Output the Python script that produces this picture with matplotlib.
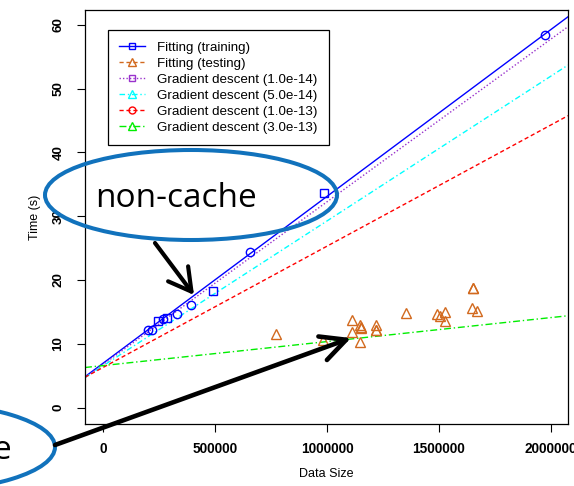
import matplotlib
matplotlib.use("Agg")
import matplotlib.pyplot as plt
from matplotlib.lines import Line2D
from matplotlib.patches import Ellipse
import numpy as np

# ---------------- data ----------------
train_x = [202000, 217000, 247000, 269000, 284000, 329000, 393000, 492000, 656000, 988000, 1973000]
train_y = [12.25, 12.25, 13.55, 13.9, 14.1, 14.7, 16.05, 18.25, 24.4, 33.6, 58.45]
train_marker = ["o", "o", "s", "o", "s", "o", "o", "s", "o", "s", "o"]

test_x = [772000, 983000, 1114000, 1113000, 1147000, 1152000, 1152000, 1147000, 1219000, 1221000, 1221000,
          1351000, 1490000, 1504000, 1527000, 1527000, 1650000, 1650000, 1646000, 1671000]
test_y = [11.47, 10.6, 13.8, 11.9, 13.0, 12.5, 12.6, 10.3, 12.9, 12.15, 12.25,
          14.9, 14.7, 14.35, 14.95, 13.65, 18.7, 18.8, 15.65, 15.1]

# fitted lines: intercept, slope
line_names = ["Gradient descent (1.0e-14)", "Gradient descent (5.0e-14)",
              "Gradient descent (1.0e-13)", "Gradient descent (3.0e-13)"]
line_intercepts = [6.75, 6.55, 6.3, 6.6]
line_slopes = [2.55e-5, 2.27e-5, 1.9e-5, 3.76e-6]
fit_intercept = 6.95
fit_slope = 2.615e-5

x_ticks = [0, 500000, 1000000, 1500000, 2000000]
y_ticks = [0, 10, 20, 30, 40, 50, 60]

# ---------------- style ----------------
C_BLUE = "#0000FF"
C_ORANGE = "#D2691E"
C_PURPLE = "#9932CC"
C_CYAN = "#00FFFF"
C_RED = "#FF0000"
C_GREEN = "#00EE00"
line_colors = [C_PURPLE, C_CYAN, C_RED, C_GREEN]
line_styles = [(0, (1, 1.5)), (0, (4, 2, 1, 2)), (0, (3, 2)), (0, (5, 2, 1, 2))]
legend_markers = ["s", "^", "o", "^"]

plt.rcParams["font.family"] = ["Liberation Sans", "DejaVu Sans"]

W, H = 574, 486
fig = plt.figure(figsize=(W / 100, H / 100), dpi=100)
L, R, T, B = 85, 568, 10, 424
ax = fig.add_axes([L / W, 1 - B / H, (R - L) / W, (B - T) / H])

ax.set_xlim(-80000, 2076000)
ax.set_ylim(-2.55, 62.3)

lw = 1.0
ax.axline((0, fit_intercept), slope=fit_slope, color=C_BLUE, lw=lw, ls="-")
for a, b, c, s in zip(line_intercepts, line_slopes, line_colors, line_styles):
    ax.axline((0, a), slope=b, color=c, lw=lw, ls=s)

for x, y, m in zip(train_x, train_y, train_marker):
    ax.plot([x], [y], ls="none", marker=m, ms=6 if m == "o" else 5.5, mfc="none",
            mec=C_BLUE, mew=1.0)
ax.plot(test_x, test_y, ls="none", marker="^", ms=7, mfc="none", mec=C_ORANGE, mew=1.0)

ax.set_xticks(x_ticks)
ax.set_xticklabels([str(v) for v in x_ticks], fontweight="bold", fontsize=9.8)
ax.set_yticks(y_ticks)
ax.set_yticklabels([str(v) for v in y_ticks], fontweight="bold", fontsize=9.6,
                   rotation=90, va="center")
ax.tick_params(axis="x", length=5.8, width=0.8, pad=7)
ax.tick_params(axis="y", length=5.8, width=0.8, pad=9)
for sp in ax.spines.values():
    sp.set_linewidth(0.9)
ax.set_xlabel("Data Size", fontsize=9, labelpad=9)
ax.set_ylabel("Time (s)", fontsize=9, labelpad=8)

handles = [Line2D([], [], color=C_BLUE, ls="-", lw=lw, marker="s", ms=5, mfc="none", mec=C_BLUE),
           Line2D([], [], color=C_ORANGE, ls=(0, (3, 2)), lw=lw, marker="^", ms=6, mfc="none", mec=C_ORANGE)]
labels = ["Fitting (training)", "Fitting (testing)"]
for c, s, m, n in zip(line_colors, line_styles, legend_markers, line_names):
    handles.append(Line2D([], [], color=c, ls=s, lw=lw, marker=m, ms=5 if m != "^" else 6,
                          mfc="none", mec=c))
    labels.append(n)
leg = ax.legend(handles, labels, loc="upper left",
                bbox_to_anchor=((108 - L) / (R - L), 1 - (30 - T) / (B - T)),
                borderaxespad=0, fontsize=9.6, frameon=True, fancybox=False,
                edgecolor="black", framealpha=1, handlelength=1.9, handletextpad=0.9,
                labelspacing=0.28, borderpad=0.85)
leg.get_frame().set_linewidth(0.9)

# ---------------- annotation overlay ----------------
ov = fig.add_axes([0, 0, 1, 1], zorder=10)
ov.set_xlim(0, W)
ov.set_ylim(H, 0)
ov.axis("off")
ov.patch.set_alpha(0)
C_ELL = "#1172BC"
ov.add_patch(Ellipse((191, 195), 292, 90, fill=False, edgecolor=C_ELL, lw=2.9))
ov.text(175.5, 198, "non-cache", fontsize=24, family=["Open Sans", "DejaVu Sans"],
        ha="center", va="center", color="black")
ov.add_patch(Ellipse((-91, 447), 292, 90, fill=False, edgecolor=C_ELL, lw=2.9, clip_on=False))
ov.text(12, 450, "cache", fontsize=24, family=["Open Sans", "DejaVu Sans"],
        ha="right", va="center", color="black")
ov.annotate("", xy=(194, 295), xytext=(155, 243),
            arrowprops=dict(arrowstyle="->,head_length=0.8,head_width=0.45",
                            lw=3, color="black", mutation_scale=20, shrinkA=0, shrinkB=0))
ov.annotate("", xy=(351, 338), xytext=(55, 445),
            arrowprops=dict(arrowstyle="->,head_length=0.9,head_width=0.45",
                            lw=3.3, color="black", mutation_scale=20, shrinkA=0, shrinkB=0))

fig.savefig("out.png", dpi=100)
